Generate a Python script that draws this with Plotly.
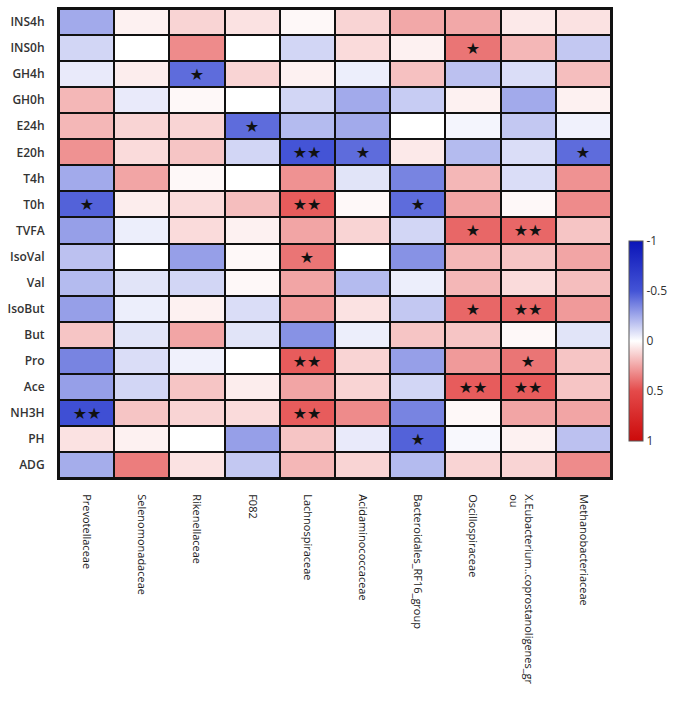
import plotly.graph_objects as go

rows = ["INS4h", "INS0h", "GH4h", "GH0h", "E24h", "E20h", "T4h", "T0h", "TVFA",
        "IsoVal", "Val", "IsoBut", "But", "Pro", "Ace", "NH3H", "PH", "ADG"]
cols = ["Prevotellaceae", "Selenomonadaceae", "Rikenellaceae", "F082",
        "Lachnospiraceae", "Acidaminococcaceae", "Bacteroidales_RF16_group",
        "Oscillospiraceae", "\u00a0<br>X.Eubacterium..coprostanoligenes_gr<br>ou",
        "Methanobacteriaceae"]

corr = [
    [-0.25, 0.04, 0.12, 0.08, 0.02, 0.12, 0.24, 0.24, 0.06, 0.08],    # INS4h
    [-0.12, 0.00, 0.32, 0.00, -0.12, 0.10, 0.04, 0.38, 0.20, -0.16],  # INS0h
    [-0.06, 0.05, -0.43, 0.12, 0.04, -0.05, 0.17, -0.18, -0.10, 0.18],  # GH4h
    [0.20, -0.06, 0.02, 0.00, -0.12, -0.25, -0.15, 0.04, -0.25, 0.04],  # GH0h
    [0.20, 0.12, 0.12, -0.43, -0.20, -0.25, 0.00, -0.03, -0.16, -0.04],  # E24h
    [0.30, 0.10, 0.16, -0.12, -0.50, -0.43, 0.06, -0.20, -0.10, -0.43],  # E20h
    [-0.25, 0.25, 0.02, 0.00, 0.30, -0.08, -0.36, 0.20, -0.10, 0.30],  # T4h
    [-0.46, 0.05, 0.10, 0.18, 0.45, 0.02, -0.43, 0.25, 0.02, 0.32],  # T0h
    [-0.28, -0.05, 0.10, 0.04, 0.25, 0.12, -0.12, 0.42, 0.42, 0.16],  # TVFA
    [-0.18, 0.00, -0.28, 0.02, 0.38, 0.00, -0.32, 0.20, 0.16, 0.25],  # IsoVal
    [-0.20, -0.08, -0.12, 0.02, 0.25, -0.20, -0.05, 0.20, 0.10, 0.18],  # Val
    [-0.28, -0.05, 0.04, -0.10, 0.28, 0.08, -0.16, 0.42, 0.42, 0.28],  # IsoBut
    [0.16, -0.08, 0.25, -0.08, -0.32, -0.05, 0.16, 0.16, 0.02, -0.08],  # But
    [-0.36, -0.10, -0.04, 0.00, 0.45, 0.12, -0.28, 0.28, 0.38, 0.16],  # Pro
    [-0.28, -0.12, 0.16, 0.05, 0.25, 0.12, -0.12, 0.45, 0.45, 0.16],  # Ace
    [-0.54, 0.16, 0.12, 0.10, 0.45, 0.32, -0.36, 0.02, 0.25, 0.25],  # NH3H
    [0.08, 0.04, 0.00, -0.28, 0.16, -0.06, -0.46, -0.02, 0.04, -0.18],  # PH
    [-0.24, 0.36, 0.08, -0.16, 0.20, 0.12, -0.20, 0.12, 0.12, 0.32],  # ADG
]

stars = [
    ["", "", "", "", "", "", "", "", "", ""],
    ["", "", "", "", "", "", "", "★", "", ""],
    ["", "", "★", "", "", "", "", "", "", ""],
    ["", "", "", "", "", "", "", "", "", ""],
    ["", "", "", "★", "", "", "", "", "", ""],
    ["", "", "", "", "★★", "★", "", "", "", "★"],
    ["", "", "", "", "", "", "", "", "", ""],
    ["★", "", "", "", "★★", "", "★", "", "", ""],
    ["", "", "", "", "", "", "", "★", "★★", ""],
    ["", "", "", "", "★", "", "", "", "", ""],
    ["", "", "", "", "", "", "", "", "", ""],
    ["", "", "", "", "", "", "", "★", "★★", ""],
    ["", "", "", "", "", "", "", "", "", ""],
    ["", "", "", "", "★★", "", "", "", "★", ""],
    ["", "", "", "", "", "", "", "★★", "★★", ""],
    ["★★", "", "", "", "★★", "", "", "", "", ""],
    ["", "", "", "", "", "", "★", "", "", ""],
    ["", "", "", "", "", "", "", "", "", ""],
]

cbar_ticks = [-1, -0.5, 0, 0.5, 1]

scale = [[0.0, "#0A14B8"], [0.25, "#4454D6"], [0.5, "#FFFFFF"],
         [0.75, "#E44A4A"], [1.0, "#CC0A0A"]]
scale_rev = [[1 - p, c] for p, c in reversed(scale)]

fig = go.Figure()
fig.add_trace(go.Heatmap(
    z=corr, x=cols, y=rows, zmin=-1, zmax=1, colorscale=scale,
    xgap=2, ygap=2, showscale=False,
    text=stars, texttemplate="%{text}",
    textfont=dict(family="DejaVu Sans", size=16, color="#111111"),
    hoverinfo="skip",
))

# colorbar shown with -1 at the top, as in the original
fig.add_trace(go.Scatter(
    x=[None], y=[None], mode="markers", showlegend=False, hoverinfo="skip",
    marker=dict(
        colorscale=scale_rev, cmin=-1, cmax=1, color=[0], showscale=True,
        colorbar=dict(
            x=1.0145, xanchor="left", xref="paper",
            y=0.293, yanchor="middle", len=220, lenmode="pixels",
            thickness=14, outlinewidth=1, outlinecolor="#555555",
            tickvals=cbar_ticks, ticktext=[f"{-v:g}" for v in cbar_ticks],
            ticks="",
            tickfont=dict(family="Open Sans", size=12, color="#333333"),
        ),
    ),
))

fig.update_layout(
    width=682, height=720,
    margin=dict(l=59, r=71, t=7, b=242),
    paper_bgcolor="white", plot_bgcolor="#111111",
    font=dict(family="Open Sans", color="#222222"),
)
fig.update_xaxes(
    tickangle=90, side="bottom", ticks="", ticklabelstandoff=12,
    tickfont=dict(family="Open Sans", size=11, color="#1a1a1a"),
    showline=True, linecolor="#111111", linewidth=2, mirror=True,
    showgrid=False, zeroline=False,
)
fig.update_yaxes(
    autorange="reversed", ticks="", ticklabelstandoff=10,
    tickfont=dict(family="Open Sans", size=12, color="#333333", weight=600),
    showline=True, linecolor="#111111", linewidth=2, mirror=True,
    showgrid=False, zeroline=False,
)

fig.write_html("out.html")
